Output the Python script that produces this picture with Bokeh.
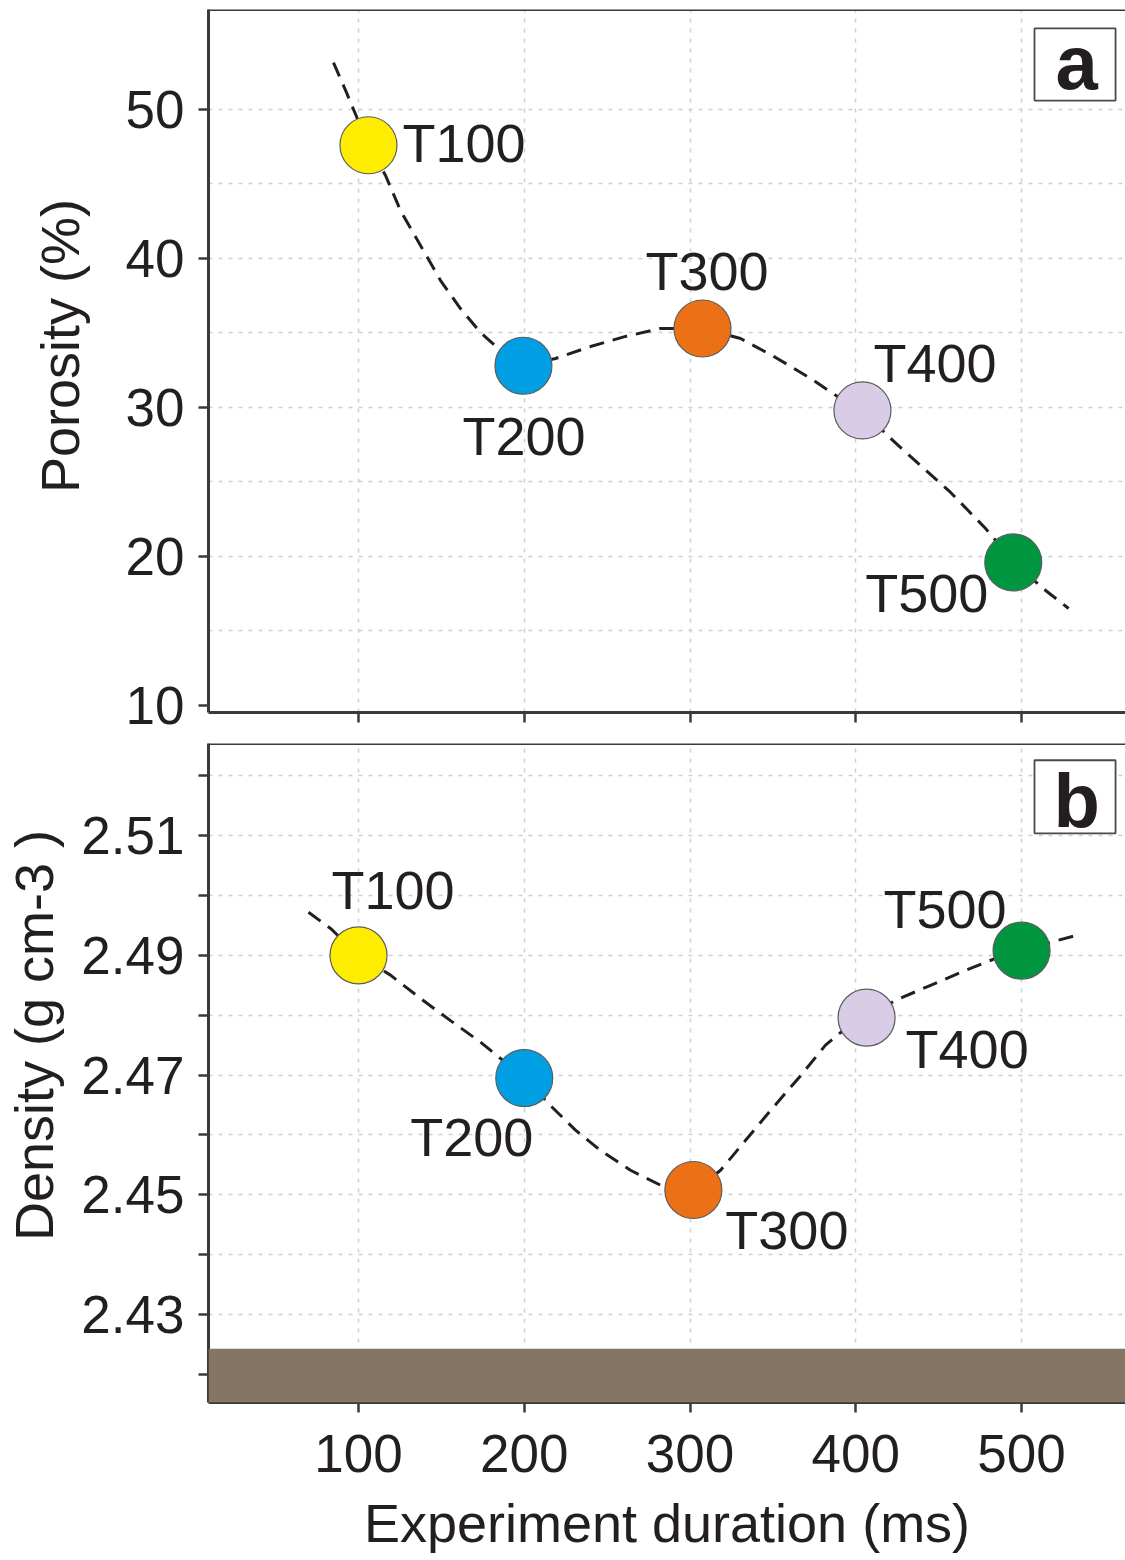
from bokeh.plotting import figure
from bokeh.models import ColumnDataSource, FixedTicker, Span, BoxAnnotation, Label, Range1d
from bokeh.layouts import column
from bokeh.embed import file_html
from bokeh.resources import INLINE
from bokeh.core.properties import value

# ---------------- data ----------------
samples = ["T100", "T200", "T300", "T400", "T500"]
sample_colors = ["#FFED00", "#009FE3", "#EC7116", "#D8CCE6", "#009640"]

por_x = [106, 199.5, 307.5, 404, 495]
por_y = [47.6, 32.8, 35.3, 29.8, 19.6]

den_x = [100, 200, 302, 406.5, 500]
den_y = [2.4900, 2.4695, 2.4508, 2.4796, 2.4908]

# dashed trend curves
por_curve_x = [84.9, 92.2, 106, 116.3, 125.3, 137.4, 149.5, 161.5, 173.6, 185.7, 199.5,
               218.9, 240.0, 261.1, 282.2, 307.5, 330.5, 351.6, 372.7, 390.8, 404.0,
               421.0, 439.0, 457.2, 478.3, 495.2, 514.5, 528.4]
por_curve_y = [53.15, 51.28, 47.6, 45.57, 43.22, 40.87, 38.52, 36.64, 35.03, 33.83, 32.82,
               33.29, 34.09, 34.77, 35.30, 35.30, 34.63, 33.36, 31.95, 30.60, 29.80,
               27.92, 26.11, 24.30, 21.88, 19.60, 17.72, 16.51]

den_curve_x = [69.8, 83.1, 100.0, 119.3, 137.4, 155.5, 173.6, 188.7, 200.2, 215.8, 230.9,
               246.0, 264.1, 282.2, 303.3, 318.4, 333.5, 348.6, 366.7, 381.7, 393.8,
               406.5, 424.0, 445.1, 466.2, 484.3, 500.0, 517.5, 532.6]
den_curve_y = [2.4972, 2.4945, 2.4900, 2.4867, 2.4828, 2.4791, 2.4755, 2.4721, 2.4695, 2.4649, 2.4608,
               2.4574, 2.4541, 2.4516, 2.4507, 2.4541, 2.4591, 2.4641, 2.4699, 2.4750, 2.4778,
               2.4796, 2.4825, 2.4850, 2.4875, 2.4895, 2.4908, 2.4922, 2.4933]

x_ticks = [100, 200, 300, 400, 500]
por_ticks = [10, 20, 30, 40, 50]
por_grid = [20, 30, 40, 50]
por_grid_minor = [15, 25, 35, 45]
den_ticks = [2.43, 2.45, 2.47, 2.49, 2.51]
den_minor = [2.42, 2.44, 2.46, 2.48, 2.50, 2.52]
basement_top = 2.4243

x_title = "Experiment duration (ms)"
por_title = "Porosity (%)"
den_title = "Density (g cm-3 )"

# ---------------- style ----------------
FONT = "Liberation Sans"
INK = "#231f20"
AX = "#3a3a3a"
GRID = "#c8d2d2"
NBSP = "\u00a0"
X_RANGE = (9.5, 562.7)
POR_RANGE = (9.53, 56.71)
DEN_RANGE = (2.4153, 2.5254)

por_offsets_x = [34, -61, -57, 11, -148]
por_offsets_y = [-2, 70, -58, -47, 31]
den_offsets_x = [-27, -114, 32, 39, -138]
den_offsets_y = [-65, 59, 40, 31, -42]


def base_fig(height, yr, mb_top, mb_bottom):
    p = figure(width=1125, height=height, x_range=Range1d(*X_RANGE), y_range=Range1d(*yr),
               output_backend="svg", toolbar_location=None,
               min_border_left=208, min_border_right=0,
               min_border_top=mb_top, min_border_bottom=mb_bottom)
    p.outline_line_color = None
    p.background_fill_color = "white"
    p.border_fill_color = "white"
    for ax in (p.xaxis[0], p.yaxis[0]):
        ax.axis_line_color = AX
        ax.axis_line_width = 3
        ax.major_tick_line_color = AX
        ax.major_tick_line_width = 2.5
        ax.major_tick_in = 0
        ax.major_tick_out = 10
        ax.minor_tick_line_color = AX
        ax.minor_tick_line_width = 2.5
        ax.minor_tick_in = 0
        ax.major_label_text_font = FONT
        ax.major_label_text_font_size = "53px"
        ax.major_label_text_color = INK
        ax.axis_label_text_font = FONT
        ax.axis_label_text_font_size = "54px"
        ax.axis_label_text_font_style = "normal"
        ax.axis_label_text_color = INK
    p.xaxis.ticker = FixedTicker(ticks=x_ticks)
    p.xaxis.minor_tick_out = 0
    p.xgrid.ticker = FixedTicker(ticks=x_ticks)
    for g in (p.xgrid[0], p.ygrid[0]):
        g.grid_line_color = GRID
        g.grid_line_width = 1.5
        g.grid_line_dash = "4 6"
    p.ygrid.minor_grid_line_color = GRID
    p.ygrid.minor_grid_line_width = 1.5
    p.ygrid.minor_grid_line_dash = "4 6"
    p.add_layout(Span(location=yr[1], dimension="width", line_color=AX, line_width=3))
    return p


def add_series(p, xs, ys, cx, cy, offx, offy):
    p.line(cx, cy, line_color=INK, line_width=3, line_dash="15 9")
    src = ColumnDataSource(dict(x=xs, y=ys, c=sample_colors, t=samples, ox=offx, oy=offy))
    p.scatter("x", "y", source=src, size=57, fill_color="c", line_color="#5c5c5c", line_width=1.2)
    p.text("x", "y", text="t", source=src, x_offset="ox", y_offset="oy",
           text_font=value(FONT), text_font_size="54px", text_color=INK,
           text_align="left", text_baseline="alphabetic")


def panel_letter(p, letter, left, right, top, bottom, tx, ty):
    p.add_layout(BoxAnnotation(left=left, right=right, top=top, bottom=bottom,
                               fill_color="white", fill_alpha=1,
                               line_color="#4a4a4a", line_alpha=1, line_width=1.8))
    p.add_layout(Label(x=tx, y=ty, text=letter, text_font=FONT, text_font_size="76px",
                       text_font_style="bold", text_color=INK,
                       text_align="center", text_baseline="middle"))


# ---------------- top panel: porosity ----------------
top = base_fig(737, POR_RANGE, 9, 25)
top.yaxis.ticker = FixedTicker(ticks=por_ticks)
top.yaxis.minor_tick_out = 0
top.yaxis.major_label_standoff = 14
top.yaxis.axis_label = NBSP * 2 + por_title
top.yaxis.axis_label_standoff = 33
top.ygrid.ticker = FixedTicker(ticks=por_grid, minor_ticks=por_grid_minor)
top.xaxis.major_label_overrides = {t: "" for t in x_ticks}
top.xaxis.major_label_text_font_size = "10px"
top.xaxis.major_label_standoff = 0
add_series(top, por_x, por_y, por_curve_x, por_curve_y, por_offsets_x, por_offsets_y)
panel_letter(top, "a", 507.8, 556.7, 55.44, 50.60, 533.2, 53.15)

# ---------------- bottom panel: density ----------------
bot = base_fig(823, DEN_RANGE, 6, 158)
bot.yaxis.ticker = FixedTicker(ticks=den_ticks, minor_ticks=den_minor)
bot.yaxis.minor_tick_out = 10
bot.yaxis.major_label_standoff = 14
bot.yaxis.axis_label = NBSP * 5 + den_title
bot.yaxis.axis_label_standoff = 14
bot.ygrid.ticker = FixedTicker(ticks=den_ticks, minor_ticks=den_minor)
bot.xaxis.major_label_standoff = 22
bot.xaxis.axis_label = x_title
bot.xaxis.axis_label_standoff = 18
bot.add_layout(BoxAnnotation(top=basement_top, fill_color="#857565", fill_alpha=1, line_color=None))
add_series(bot, den_x, den_y, den_curve_x, den_curve_y, den_offsets_x, den_offsets_y)
panel_letter(bot, "b", 507.8, 556.7, 2.5226, 2.5104, 533.2, 2.5159)

layout = column(top, bot, spacing=0)
open("out.html", "w").write(file_html(layout, INLINE))
